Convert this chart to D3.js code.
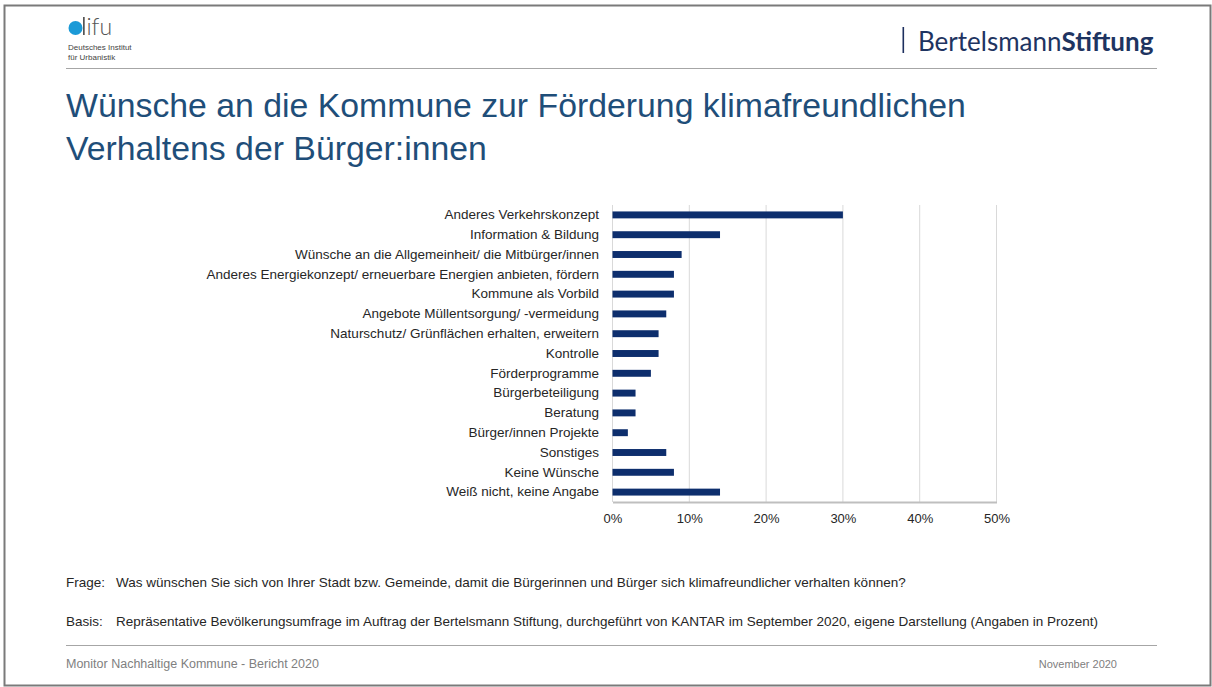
<!DOCTYPE html>
<html>
<head>
<meta charset="utf-8">
<script src="https://cdn.jsdelivr.net/npm/d3@7/dist/d3.min.js"></script>
<style>
  html, body { margin: 0; padding: 0; background: #fff; }
  svg { display: block; font-family: "Liberation Sans", Arial, sans-serif; }
</style>
</head>
<body>
<svg id="chart" width="1212" height="687"></svg>
<script>
const categories = [
  "Anderes Verkehrskonzept",
  "Information & Bildung",
  "Wünsche an die Allgemeinheit/ die Mitbürger/innen",
  "Anderes Energiekonzept/ erneuerbare Energien anbieten, fördern",
  "Kommune als Vorbild",
  "Angebote Müllentsorgung/ -vermeidung",
  "Naturschutz/ Grünflächen erhalten, erweitern",
  "Kontrolle",
  "Förderprogramme",
  "Bürgerbeteiligung",
  "Beratung",
  "Bürger/innen Projekte",
  "Sonstiges",
  "Keine Wünsche",
  "Weiß nicht, keine Angabe"
];
const values = [30, 14, 9, 8, 8, 7, 6, 6, 5, 3, 3, 2, 7, 8, 14];
const xTicks = [0, 10, 20, 30, 40, 50];

const titleLines = [
  "Wünsche an die Kommune zur Förderung klimafreundlichen",
  "Verhaltens der Bürger:innen"
];
const frageText = "Was wünschen Sie sich von Ihrer Stadt bzw. Gemeinde, damit die Bürgerinnen und Bürger sich klimafreundlicher verhalten können?";
const basisText = "Repräsentative Bevölkerungsumfrage im Auftrag der Bertelsmann Stiftung, durchgeführt von KANTAR im September 2020, eigene Darstellung (Angaben in Prozent)";
const footerLeft = "Monitor Nachhaltige Kommune - Bericht 2020";
const footerRight = "November 2020";

const svg = d3.select("#chart");

// page frame
svg.append("rect").attr("x", 4.5).attr("y", 5.5).attr("width", 1206).attr("height", 680)
  .attr("fill", "none").attr("stroke", "#7a7a7a").attr("stroke-width", 2);

// header line
svg.append("line").attr("x1", 66).attr("x2", 1157).attr("y1", 68.5).attr("y2", 68.5)
  .attr("stroke", "#a6a6a6").attr("stroke-width", 1);

// difu logo
const logo = svg.append("g");
logo.append("circle").attr("cx", 75.5).attr("cy", 28).attr("r", 7).attr("fill", "#1b9ad7");
logo.append("rect").attr("x", 83).attr("y", 17).attr("width", 1.7).attr("height", 18).attr("fill", "#555");
logo.append("text").attr("x", 86.5).attr("y", 35).attr("font-size", 23).attr("fill", "#555")
  .attr("font-weight", 300).attr("font-family", "Lato, 'Open Sans', sans-serif").text("ifu");
logo.append("text").attr("x", 68).attr("y", 50).attr("font-size", 8).attr("fill", "#444").text("Deutsches Institut");
logo.append("text").attr("x", 68).attr("y", 59.5).attr("font-size", 8).attr("fill", "#444").text("für Urbanistik");

// Bertelsmann logo
svg.append("rect").attr("x", 902.5).attr("y", 27).attr("width", 1.6).attr("height", 26).attr("fill", "#1d2f5e");
const bst = svg.append("text").attr("x", 918).attr("y", 51).attr("font-size", 26)
  .attr("font-family", "Lato, 'Open Sans', sans-serif").attr("fill", "#1e3461");
bst.append("tspan").text("Bertelsmann");
bst.append("tspan").attr("font-weight", 700).text("Stiftung");

// title
svg.append("g").selectAll("text").data(titleLines).join("text")
  .attr("x", 66).attr("y", (d, i) => 117 + i * 43)
  .attr("font-size", 33.8).attr("fill", "#1f4e79").text(d => d);

// chart
const x = d3.scaleLinear().domain([0, 50]).range([612.5, 996.5]);
const y = d3.scaleBand().domain(categories).range([205, 502]).paddingInner(0.65).paddingOuter(0.325);

const g = svg.append("g");
g.selectAll("line.grid").data(xTicks.slice(1)).join("line").attr("class", "grid")
  .attr("x1", d => x(d)).attr("x2", d => x(d)).attr("y1", 205).attr("y2", 502)
  .attr("stroke", "#d9d9d9").attr("stroke-width", 1);
g.append("line").attr("x1", x(0)).attr("x2", x(0)).attr("y1", 205).attr("y2", 502)
  .attr("stroke", "#d9d9d9");

g.selectAll("rect.bar").data(values).join("rect").attr("class", "bar")
  .attr("x", x(0)).attr("y", (d, i) => y(categories[i]))
  .attr("width", d => x(d) - x(0)).attr("height", y.bandwidth())
  .attr("fill", "#0d2e6d");

const xAxis = d3.axisBottom(x).tickValues(xTicks).tickFormat(d => d + "%").tickSize(0).tickPadding(12);
const xg = g.append("g").attr("transform", "translate(0,502)").call(xAxis);
xg.select(".domain").attr("stroke", "#bfbfbf").attr("stroke-width", 2);
xg.selectAll("text").attr("font-size", 13).attr("fill", "#262626").attr("font-family", "Liberation Sans, Arial, sans-serif");

const yAxis = d3.axisLeft(y).tickSize(0).tickPadding(13);
const yg = g.append("g").attr("transform", "translate(612,0)").call(yAxis);
yg.select(".domain").remove();
yg.selectAll("text").attr("font-size", 13.5).attr("fill", "#262626").attr("font-family", "Liberation Sans, Arial, sans-serif");

// notes
const notes = svg.append("g").attr("font-size", 13.5).attr("fill", "#262626");
notes.append("text").attr("x", 66).attr("y", 587).text("Frage:");
notes.append("text").attr("x", 116).attr("y", 587).text(frageText);
notes.append("text").attr("x", 66).attr("y", 626).text("Basis:");
notes.append("text").attr("x", 116).attr("y", 626).text(basisText);

svg.append("line").attr("x1", 66).attr("x2", 1157).attr("y1", 645.5).attr("y2", 645.5)
  .attr("stroke", "#a6a6a6");
svg.append("text").attr("x", 66).attr("y", 667.5).attr("font-size", 12.5).attr("fill", "#808080").text(footerLeft);
svg.append("text").attr("x", 1117).attr("y", 667.5).attr("text-anchor", "end").attr("font-size", 11).attr("fill", "#808080").text(footerRight);
</script>
</body>
</html>
